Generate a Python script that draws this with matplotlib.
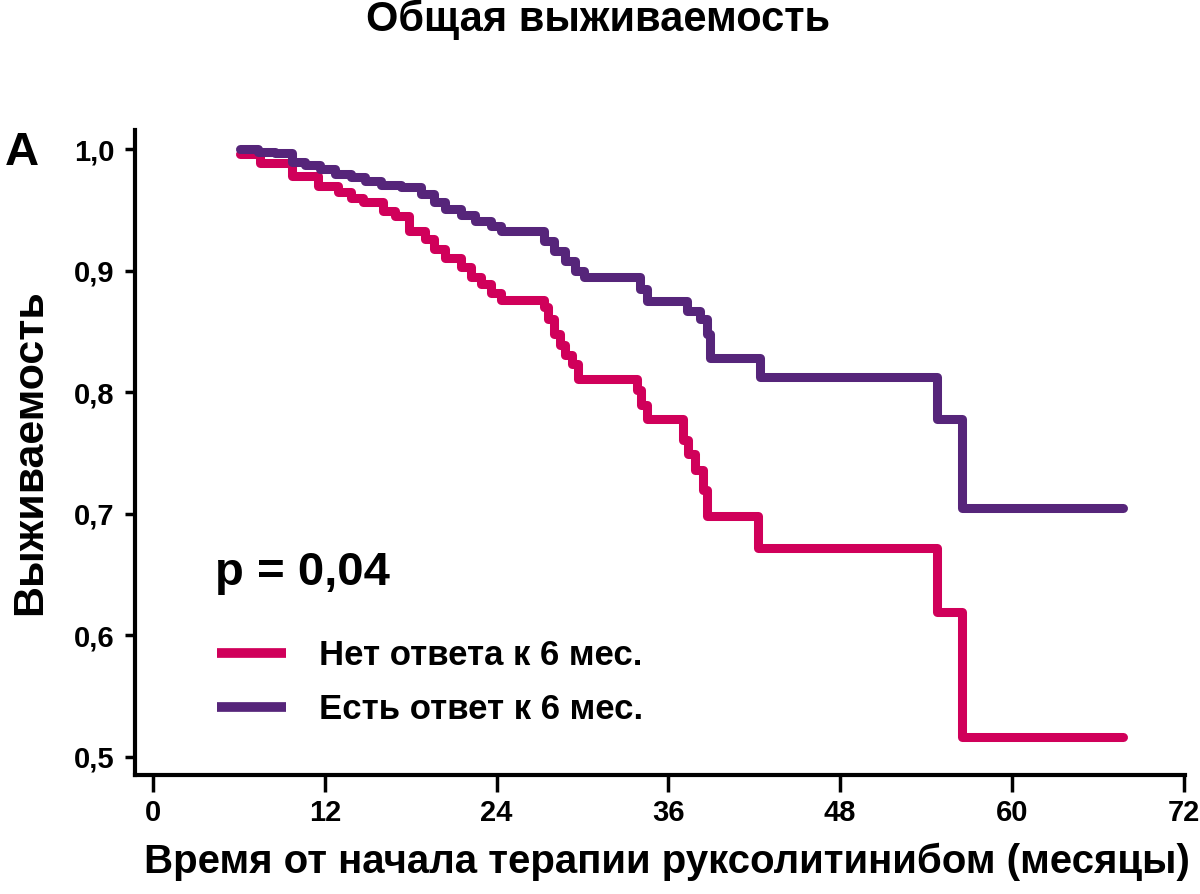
import matplotlib
matplotlib.use("Agg")
import matplotlib.pyplot as plt

plt.rcParams['font.family'] = ['Liberation Sans', 'DejaVu Sans']
plt.rcParams['font.weight'] = 'bold'

# Нет ответа к 6 мес. (time in months, survival)
t_no = [6.1, 7.5, 9.7, 11.5, 12.9, 13.8, 14.7, 16.1, 16.9, 17.9, 19.0, 19.6, 20.4,
        21.5, 22.2, 22.9, 23.6, 24.3, 27.3, 27.6, 28.0, 28.4, 28.8, 29.3, 29.7,
        33.8, 34.1, 34.5, 37.0, 37.4, 37.9, 38.4, 38.7, 42.3, 54.8, 56.5, 67.8]
s_no = [0.996, 0.989, 0.978, 0.970, 0.965, 0.960, 0.957, 0.949, 0.945, 0.933, 0.926,
        0.918, 0.911, 0.903, 0.895, 0.889, 0.882, 0.876, 0.870, 0.860, 0.848, 0.839,
        0.831, 0.823, 0.811, 0.802, 0.790, 0.778, 0.761, 0.749, 0.736, 0.720, 0.698,
        0.672, 0.619, 0.516, 0.516]

# Есть ответ к 6 мес.
t_yes = [6.1, 7.3, 8.5, 9.7, 10.6, 11.7, 12.7, 13.8, 14.8, 15.9, 17.3, 18.7, 19.6,
         20.4, 21.5, 22.5, 23.6, 24.3, 27.3, 28.0, 28.8, 29.5, 30.1, 34.0, 34.5,
         37.3, 38.2, 38.7, 38.9, 42.4, 54.8, 56.5, 67.8]
s_yes = [1.0, 0.998, 0.997, 0.990, 0.987, 0.984, 0.980, 0.977, 0.974, 0.971, 0.969,
         0.963, 0.957, 0.951, 0.946, 0.941, 0.937, 0.933, 0.925, 0.916, 0.908, 0.900,
         0.895, 0.885, 0.875, 0.867, 0.860, 0.848, 0.828, 0.813, 0.778, 0.705, 0.705]

labels = ['Нет ответа к 6 мес.', 'Есть ответ к 6 мес.']
colors = ['#D0005A', '#56257A']
x_ticks = [0, 12, 24, 36, 48, 60, 72]
y_ticks = [0.5, 0.6, 0.7, 0.8, 0.9, 1.0]
y_ticklabels = ['0,5', '0,6', '0,7', '0,8', '0,9', '1,0']

fig = plt.figure(figsize=(12, 8.94), dpi=100)
ax = fig.add_axes([0.1125, 0.1331, 0.875, 0.7215])

for t, s, lab, c in [(t_no, s_no, labels[0], colors[0]), (t_yes, s_yes, labels[1], colors[1])]:
    ax.plot(t, s, drawstyle='steps-post', color=c, lw=6.5, label=lab,
            solid_capstyle='round', solid_joinstyle='round')

ax.set_xlim(-1.26, 72.1)
ax.set_ylim(0.485, 1.016)
ax.set_xticks(x_ticks)
ax.set_xticklabels([str(v) for v in x_ticks])
ax.set_yticks(y_ticks)
ax.set_yticklabels(y_ticklabels)

for side in ['top', 'right']:
    ax.spines[side].set_visible(False)
for side in ['left', 'bottom']:
    ax.spines[side].set_linewidth(3)
ax.tick_params(axis='y', direction='out', length=7, width=2.5, labelsize=21, pad=8)
ax.tick_params(axis='x', direction='out', length=12, width=2.5, labelsize=21, pad=5)
for lbl in ax.get_xticklabels() + ax.get_yticklabels():
    lbl.set_fontweight('bold')

fig.text(598 / 1200, 1 - 20 / 894, 'Общая выживаемость', ha='center', va='center',
         fontsize=30, fontweight='bold')
fig.text(667 / 1200, 1 - 862 / 894, 'Время от начала терапии руксолитинибом (месяцы)',
         ha='center', va='center', fontsize=29, fontweight='bold')
fig.text(30 / 1200, 1 - 452 / 894, 'Выживаемость', ha='center', va='center',
         rotation=90, fontsize=31, fontweight='bold')
fig.text(5 / 1200, 1 - 165 / 894, 'A', ha='left', va='baseline',
         fontsize=34, fontweight='bold')
fig.text(215 / 1200, 1 - 585 / 894, 'p = 0,04', ha='left', va='baseline',
         fontsize=34, fontweight='bold')

leg = ax.legend(loc='upper left', bbox_to_anchor=(217 / 1200, 1 - 639 / 894),
                bbox_transform=fig.transFigure, frameon=False, borderpad=0,
                borderaxespad=0, handlelength=2.0, handletextpad=0.95,
                labelspacing=0.6, prop={'size': 25, 'weight': 'bold'})
for line in leg.get_lines():
    line.set_linewidth(7)
    line.set_solid_capstyle('butt')

fig.savefig('out.png', dpi=100)
